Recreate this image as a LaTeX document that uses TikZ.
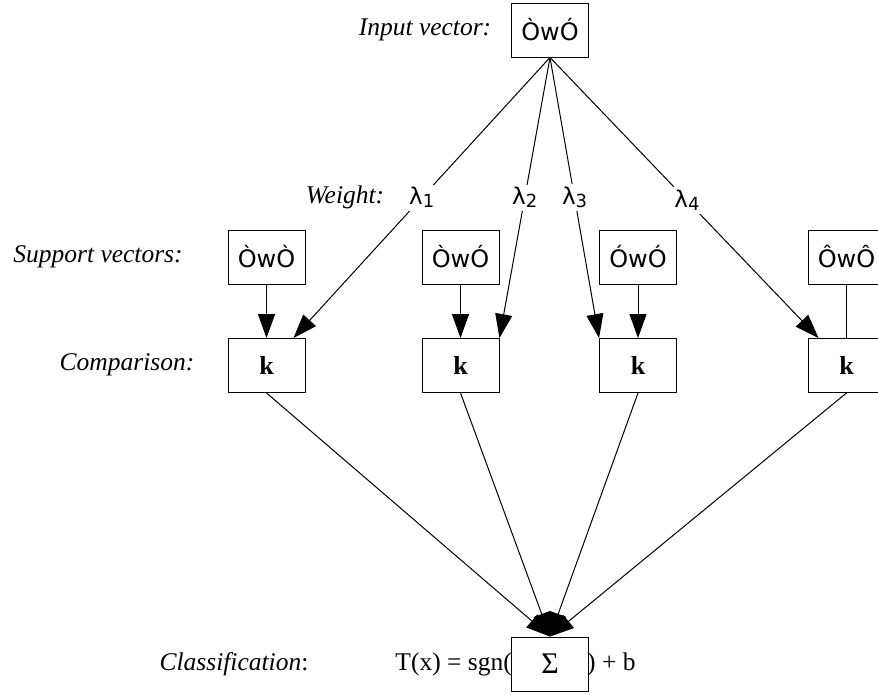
\documentclass[tikz,border=0pt]{standalone}
\usepackage{fontspec}
\setmainfont{Liberation Serif}
\newfontfamily\boxfont{DejaVu Sans}
\usetikzlibrary{arrows.meta,calc}
\begin{document}
\begin{tikzpicture}[x=1pt,y=-1pt,
  box/.style={draw, line width=0.9pt, minimum width=77pt, minimum height=54pt, inner sep=0pt},
  vec/.style={box, font=\boxfont\fontsize{24}{24}\selectfont},
  cmp/.style={box, font=\fontsize{26}{26}\selectfont\bfseries},
  lbl/.style={font=\fontsize{25.5}{26}\selectfont\itshape, inner sep=0pt},
  txt/.style={font=\fontsize{25.5}{26}\selectfont, inner sep=0pt},
  wt/.style={font=\boxfont\fontsize{23}{23}\selectfont, fill=white, inner sep=3pt},
  arr/.style={draw, line width=1pt, -{Triangle[length=24pt,width=17pt]}},
  ln/.style={draw, line width=1pt}]
\useasboundingbox (0,0) rectangle (878,694);
\clip (0,0) rectangle (878,694);
% labels
\node[lbl] (linput) at (425,30) {Input vector:};
\node[lbl] (lweight) at (345,197) {Weight:};
\node[lbl] (lsupport) at (98,257) {Support vectors:};
\node[lbl] (lcomp) at (127,365) {Comparison:};
\node[lbl] (lclass) at (234,664) {Classification\upshape:};
% boxes
\node[vec] (in) at (550,30) {ÒwÓ};
\node[vec] (s1) at (266.5,257) {ÒwÒ};
\node[vec] (s2) at (460.5,257) {ÒwÓ};
\node[vec] (s3) at (638,257) {ÓwÓ};
\node[vec] (s4) at (846.5,257) {ÔwÔ};
\node[cmp] (k1) at (266.5,365.5) {k};
\node[cmp] (k2) at (460.5,365.5) {k};
\node[cmp] (k3) at (638,365.5) {k};
\node[cmp] (k4) at (846.5,365.5) {k};
\node[box] (sum) at (550,664) {\fontsize{30}{30}\selectfont Σ};
\node[txt, anchor=east] (sgn) at ($(sum.west)+(1,0)$) {T(x) = sgn(};
\node[txt, anchor=west] (pb) at ($(sum.east)+(-2,0)$) {) + b};
% weighted edges
\draw[arr] (in.south) -- node[wt,pos=0.5]{λ\raisebox{-3pt}{\fontsize{18}{18}\selectfont 1}} ($(k1.north east)+(-12,0)$);
\draw[arr] (in.south) -- node[wt,pos=0.5]{λ\raisebox{-3pt}{\fontsize{18}{18}\selectfont 2}} (k2.north east);
\draw[arr] (in.south) -- node[wt,pos=0.5]{λ\raisebox{-3pt}{\fontsize{18}{18}\selectfont 3}} (k3.north west);
\draw[arr] (in.south) -- node[wt,pos=0.51]{λ\raisebox{-3pt}{\fontsize{18}{18}\selectfont 4}} ($(k4.north west)+(11,0)$);
% support to comparison
\draw[arr] (s1) -- (k1);
\draw[arr] (s2) -- (k2);
\draw[arr] (s3) -- (k3);
\draw[ln] (s4) -- (k4);
% comparison to sum
\draw[arr] (k1.south) -- (sum.north);
\draw[arr] (k2.south) -- (sum.north);
\draw[arr] (k3.south) -- (sum.north);
\draw[arr] (k4.south) -- (sum.north);
\end{tikzpicture}
\end{document}
